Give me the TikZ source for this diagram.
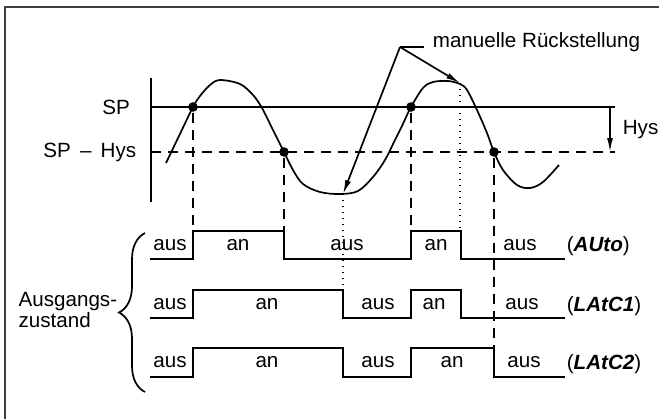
\documentclass[tikz,border=0pt]{standalone}
\usepackage{fontspec}
\setmainfont{Liberation Sans}
\usetikzlibrary{arrows.meta,decorations.pathreplacing}
\begin{document}
\begin{tikzpicture}[x=0.5pt, y=-0.5pt, line width=0.85pt,
  every node/.style={font=\fontsize{10.3}{10.5}\selectfont, inner sep=0pt},
  dot/.style={circle, fill, minimum size=4.8pt},
  hold/.style={dash pattern=on 5pt off 3.5pt},
  tick/.style={line width=0.6pt, dash pattern=on 0.7pt off 2.3pt},
  pfeil/.style={-{Latex[length=7pt,width=3pt]}},
  seg/.style={anchor=west, font=\fontsize{10.3}{12}\selectfont}]
  \useasboundingbox (0,0) rectangle (659,419);
  \draw[line width=1pt, black!75] (5,419) -- (5,7) -- (659,7);

  \draw (151,78) -- (151,202);
  \draw (151,107) -- (615,107);
  \draw[hold] (151,152) -- (615,152);
  \node (sp) at (116,107) {SP};
  \node[anchor=east] (sphys) at (137,152) {SP \,--\, Hys};
  \coordinate (h1) at (610,107);
  \coordinate (h2) at (610,152);
  \draw[pfeil] (h1) -- (h2);
  \node[anchor=west] (hys) at (622,130) {Hys};

  \draw plot[smooth, tension=0.55] coordinates {(166,163) (179,136) (193,107)
    (200,96) (210,85) (220,80) (240,84) (253,95) (262,108) (273,130) (284,152)
    (293,170) (303,184) (320,192) (340,194) (358,191) (373,177) (385,160)
    (395,140) (402,126) (411,107) (423,88) (433,82) (448,81) (460,84) (467,90)
    (477,110) (487,133) (494,152) (503,170) (517,185) (530,188) (543,182)
    (559,165)};

  \foreach \n/\x/\y/\e in {p1/193/107/231, p2/284/152/231, p3/411/107/231, p4/494/152/348} {
    \node[dot] (\n) at (\x,\y) {};
    \coordinate (\n e) at (\x,\e);
    \draw[hold] (\n) -- (\n e);
  }

  \coordinate (lo) at (343,194);
  \coordinate (loe) at (343,290);
  \coordinate (hi) at (460,83);
  \coordinate (hie) at (460,231);
  \draw[tick] (lo) -- (loe);
  \draw[tick] (hi) -- (hie);

  \coordinate (mr) at (400,47);
  \node[anchor=base west] (man) at (432,47) {manuelle Rückstellung};
  \draw (mr) -- ([xshift=-4pt]man.base west);
  \draw[pfeil] (mr) -- (lo);
  \draw[pfeil] (mr) -- (hi);

  \draw (150,259) -- (193,259) -- (193,231) -- (284,231) -- (284,259) -- (411,259)
    -- (411,231) -- (461,231) -- (461,259) -- (565,259);
  \draw (150,318) -- (193,318) -- (193,290) -- (343,290) -- (343,318) -- (411,318)
    -- (411,290) -- (461,290) -- (461,318) -- (565,318);
  \draw (150,377) -- (193,377) -- (193,348) -- (343,348) -- (343,377) -- (411,377)
    -- (411,348) -- (494,348) -- (494,377) -- (565,377);

  \foreach \x/\y/\t in {170/245/aus, 238/245/an, 347/245/aus, 436/245/an, 520/245/aus,
    170/304/aus, 267/304/an, 378/304/aus, 434/304/an, 522/304/aus,
    170/362/aus, 267/362/an, 378/362/aus, 452/362/an, 524/362/aus}
    \node (s\x-\y) at (\x,\y) {\t};

  \node[seg] (auto) at (566,246) {(\textbf{\textit{AUto}})};
  \node[seg] (latc1) at (566,306) {(\textbf{\textit{LAtC1}})};
  \node[seg] (latc2) at (566,364) {(\textbf{\textit{LAtC2}})};

  \draw[decorate, decoration={brace, amplitude=13pt}] (145,392) -- (145,233);
  \node[anchor=east, align=left] (zust) at (118,310) {Ausgangs-\\zustand};
\end{tikzpicture}
\end{document}
